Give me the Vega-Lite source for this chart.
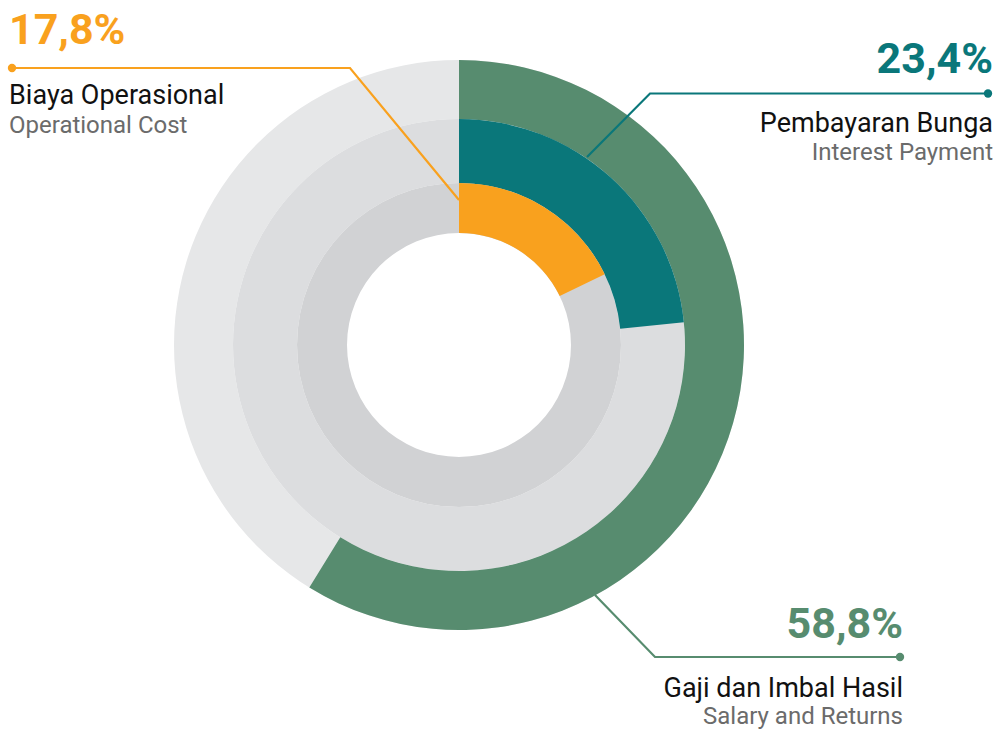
{
  "$schema": "https://vega.github.io/schema/vega-lite/v6.json",
  "width": 998,
  "height": 729,
  "autosize": {"type": "fit", "contains": "padding"},
  "padding": 0,
  "background": "#ffffff",
  "config": {"view": {"stroke": null}, "font": "Roboto"},
  "datasets": {
    "bg": [
      {"ring": "bg_outer", "start": 0, "end": 100, "r0": 226, "r1": 285, "cx": 459, "cy": 345},
      {"ring": "bg_middle", "start": 0, "end": 100, "r0": 162, "r1": 226, "cx": 459, "cy": 345},
      {"ring": "bg_inner", "start": 0, "end": 100, "r0": 112, "r1": 162, "cx": 459, "cy": 345}
    ],
    "parts": [
      {"ring": "Gaji", "start": 0, "end": 58.8, "r0": 226, "r1": 285, "cx": 459, "cy": 345},
      {"ring": "Bunga", "start": 0, "end": 23.4, "r0": 162, "r1": 226, "cx": 459, "cy": 345},
      {"ring": "Operasional", "start": 0, "end": 17.8, "r0": 112, "r1": 162, "cx": 459, "cy": 345}
    ],
    "leaders": [
      {"ring": "Operasional", "i": 0, "x": 12, "y": 68},
      {"ring": "Operasional", "i": 1, "x": 350, "y": 68},
      {"ring": "Operasional", "i": 2, "x": 459, "y": 200},
      {"ring": "Bunga", "i": 0, "x": 988, "y": 93.5},
      {"ring": "Bunga", "i": 1, "x": 650, "y": 93.5},
      {"ring": "Bunga", "i": 2, "x": 587, "y": 157},
      {"ring": "Gaji", "i": 0, "x": 900, "y": 657},
      {"ring": "Gaji", "i": 1, "x": 655, "y": 657},
      {"ring": "Gaji", "i": 2, "x": 595, "y": 595}
    ],
    "dots": [
      {"ring": "Operasional", "x": 12, "y": 68},
      {"ring": "Bunga", "x": 988, "y": 93.5},
      {"ring": "Gaji", "x": 900, "y": 657}
    ],
    "labels": [
      {"ring": "Operasional", "side": "left", "x": 9, "pct": "17,8%", "title": "Biaya Operasional", "sub": "Operational Cost", "yp": 44, "yt": 104, "ys": 133},
      {"ring": "Bunga", "side": "right", "x": 993, "pct": "23,4%", "title": "Pembayaran Bunga", "sub": "Interest Payment", "yp": 73, "yt": 132, "ys": 160},
      {"ring": "Gaji", "side": "right", "x": 903, "pct": "58,8%", "title": "Gaji dan Imbal Hasil", "sub": "Salary and Returns", "yp": 638, "yt": 697, "ys": 724}
    ]
  },
  "encoding": {},
  "resolve": {"scale": {"x": "shared", "y": "shared", "color": "shared"}},
  "layer": [
    {
      "data": {"name": "bg"},
      "mark": {"type": "arc", "strokeWidth": 0},
      "encoding": {
        "x": {"field": "cx", "type": "quantitative", "scale": {"domain": [0, 998], "nice": false, "zero": false}, "axis": null},
        "y": {"field": "cy", "type": "quantitative", "scale": {"domain": [0, 729], "nice": false, "zero": false, "reverse": true}, "axis": null},
        "theta": {"field": "start", "type": "quantitative", "stack": null, "scale": {"domain": [0, 100], "range": [0, 6.283185307179586]}},
        "theta2": {"field": "end"},
        "radius": {"field": "r1", "type": "quantitative", "scale": {"type": "linear", "domain": [0, 364.5], "range": [0, 364.5], "zero": true, "nice": false}},
        "radius2": {"field": "r0"},
        "color": {"field": "ring", "type": "nominal", "legend": null, "scale": {"domain": ["bg_outer", "bg_middle", "bg_inner", "Gaji", "Bunga", "Operasional"], "range": ["#e6e7e8", "#dcdddf", "#d1d2d4", "#578c6f", "#0a777a", "#f9a11e"]}}
      }
    },
    {
      "data": {"name": "parts"},
      "mark": {"type": "arc", "strokeWidth": 0},
      "encoding": {
        "x": {"field": "cx", "type": "quantitative"},
        "y": {"field": "cy", "type": "quantitative"},
        "theta": {"field": "start", "type": "quantitative", "stack": null},
        "theta2": {"field": "end"},
        "radius": {"field": "r1", "type": "quantitative"},
        "radius2": {"field": "r0"},
        "color": {"field": "ring", "type": "nominal", "legend": null}
      }
    },
    {
      "data": {"name": "leaders"},
      "mark": {"type": "line", "strokeWidth": 2.2, "interpolate": "linear"},
      "encoding": {
        "x": {"field": "x", "type": "quantitative"},
        "y": {"field": "y", "type": "quantitative"},
        "detail": {"field": "ring"},
        "order": {"field": "i", "type": "quantitative"},
        "color": {"field": "ring", "type": "nominal", "legend": null}
      }
    },
    {
      "data": {"name": "dots"},
      "mark": {"type": "point", "filled": true, "opacity": 1, "size": 70, "shape": "circle"},
      "encoding": {
        "x": {"field": "x", "type": "quantitative"},
        "y": {"field": "y", "type": "quantitative"},
        "color": {"field": "ring", "type": "nominal", "legend": null}
      }
    },
    {
      "data": {"name": "labels"},
      "transform": [{"filter": "datum.side === 'left'"}],
      "mark": {"type": "text", "align": "left", "baseline": "alphabetic", "fontSize": 43, "fontWeight": "bold", "font": "Roboto"},
      "encoding": {
        "x": {"field": "x", "type": "quantitative"},
        "y": {"field": "yp", "type": "quantitative"},
        "text": {"field": "pct"},
        "color": {"field": "ring", "type": "nominal", "legend": null}
      }
    },
    {
      "data": {"name": "labels"},
      "transform": [{"filter": "datum.side === 'right'"}],
      "mark": {"type": "text", "align": "right", "baseline": "alphabetic", "fontSize": 43, "fontWeight": "bold", "font": "Roboto"},
      "encoding": {
        "x": {"field": "x", "type": "quantitative"},
        "y": {"field": "yp", "type": "quantitative"},
        "text": {"field": "pct"},
        "color": {"field": "ring", "type": "nominal", "legend": null}
      }
    },
    {
      "data": {"name": "labels"},
      "transform": [{"filter": "datum.side === 'left'"}],
      "mark": {"type": "text", "align": "left", "baseline": "alphabetic", "fontSize": 27, "font": "Roboto", "color": "#111111"},
      "encoding": {
        "x": {"field": "x", "type": "quantitative"},
        "y": {"field": "yt", "type": "quantitative"},
        "text": {"field": "title"}
      }
    },
    {
      "data": {"name": "labels"},
      "transform": [{"filter": "datum.side === 'right'"}],
      "mark": {"type": "text", "align": "right", "baseline": "alphabetic", "fontSize": 27, "font": "Roboto", "color": "#111111"},
      "encoding": {
        "x": {"field": "x", "type": "quantitative"},
        "y": {"field": "yt", "type": "quantitative"},
        "text": {"field": "title"}
      }
    },
    {
      "data": {"name": "labels"},
      "transform": [{"filter": "datum.side === 'left'"}],
      "mark": {"type": "text", "align": "left", "baseline": "alphabetic", "fontSize": 24, "font": "Roboto", "color": "#6b6b6b"},
      "encoding": {
        "x": {"field": "x", "type": "quantitative"},
        "y": {"field": "ys", "type": "quantitative"},
        "text": {"field": "sub"}
      }
    },
    {
      "data": {"name": "labels"},
      "transform": [{"filter": "datum.side === 'right'"}],
      "mark": {"type": "text", "align": "right", "baseline": "alphabetic", "fontSize": 24, "font": "Roboto", "color": "#6b6b6b"},
      "encoding": {
        "x": {"field": "x", "type": "quantitative"},
        "y": {"field": "ys", "type": "quantitative"},
        "text": {"field": "sub"}
      }
    }
  ]
}
